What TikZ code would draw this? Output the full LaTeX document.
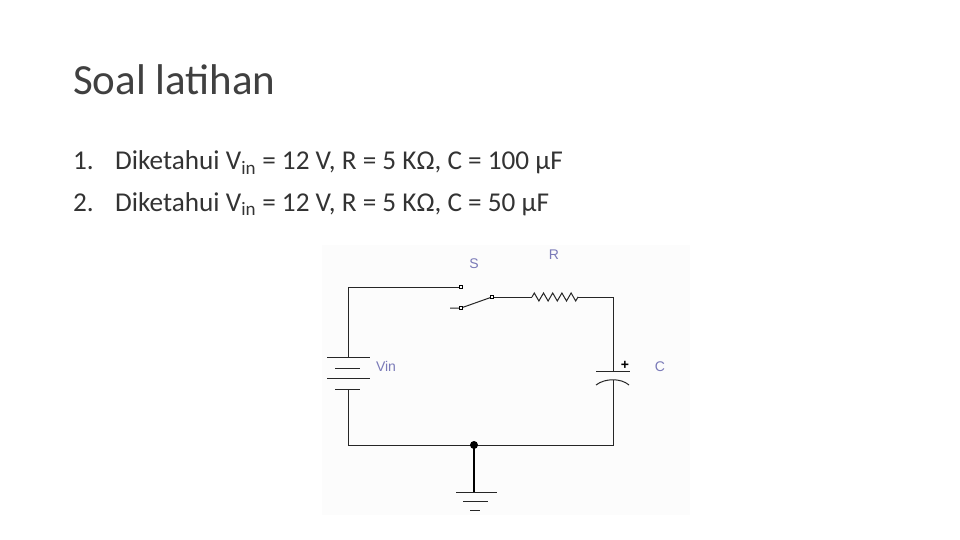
\documentclass[tikz,border=0pt]{standalone}
\usepackage{fontspec}
\setmainfont{Carlito}
\newfontfamily\lab{Liberation Sans}
\usetikzlibrary{decorations.pathmorphing}
\begin{document}
\begin{tikzpicture}[x=1pt,y=-1pt,
  wire/.style={line width=1pt,black!85},
  lbl/.style={font=\lab\fontsize{14}{14}\selectfont,text=blue!30!gray!80},
  txt/.style={anchor=base west,inner sep=0pt,font=\fontsize{27.2}{28}\selectfont,text=black!80},
  term/.style={draw,fill=white,inner sep=0pt,minimum size=3pt,line width=0.6pt}]
\useasboundingbox (0,0) rectangle (960,540);
\node[anchor=base west,inner sep=0pt,font=\fontsize{43}{45}\selectfont,text=black!75] (title) at (73,95) {Soal latihan};
\node[txt] (l1n) at (73,170) {1.};
\node[txt] (l1) at (115,170) {Diketahui V\textsubscript{in} = 12 V, R = 5 KΩ, C = 100 µF};
\node[txt] (l2n) at (73,211) {2.};
\node[txt] (l2) at (115,211) {Diketahui V\textsubscript{in} = 12 V, R = 5 KΩ, C = 50 µF};
\fill[black!1] (322,245) rectangle (690,515);
\coordinate (tl) at (348,287);
\coordinate (bl) at (348,445);
\coordinate (br) at (613,445);
\coordinate (tr) at (613,297);
\coordinate (j) at (474,445);
\coordinate (g) at (474,492);
\coordinate (r1) at (532,297);
\coordinate (r2) at (578,297);
\coordinate (cp) at (613,371);
\coordinate (cn) at (613,380);
\coordinate (bt) at (348,357);
\coordinate (bb) at (348,389);
\coordinate (sw0) at (450,308);
\draw[wire] (bt) -- (tl) -- (461,287);
\draw[wire] (327,357) -- (370,357) (335,368) -- (360,368) (327,378) -- (370,378) (335,389) -- (360,389);
\draw[wire] (bb) -- (bl) -- (br) -- (cn);
\draw[wire] (cp) -- (tr) -- (r2);
\draw[wire] (r1) -- (492,297);
\draw[wire,decorate,decoration={zigzag,segment length=9.2pt,amplitude=4pt}] (r1) -- (r2);
\draw[wire] (596,371) -- (630,371);
\draw[wire] (596,385) .. controls (605,378) and (621,378) .. (629,385);
\draw[wire] (sw0) -- (461,308) -- (492,297);
\node[term] (s1) at (461,287) {};
\node[term] (s2) at (461,308) {};
\node[term] (s3) at (492,297) {};
\fill (j) circle (4pt);
\draw[line width=1.8pt] (j) -- (g);
\draw[wire] (456,492) -- (497,492) (463,501) -- (488,501) (470,510) -- (480,510);
\node[lbl] (S) at (474,264) {S};
\node[lbl] (R) at (554,255) {R};
\node[lbl] (V) at (386,366) {Vin};
\node[lbl] (C) at (660,367) {C};
\node[font=\lab\bfseries\fontsize{14}{14}\selectfont] (plus) at (625,365) {+};
\end{tikzpicture}
\end{document}
